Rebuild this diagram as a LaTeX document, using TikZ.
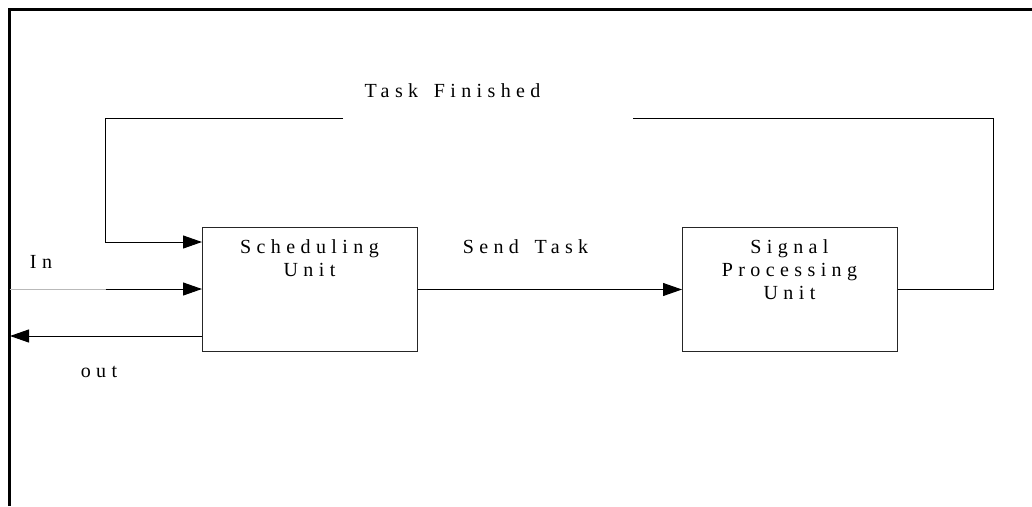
\documentclass[tikz,border=0pt]{standalone}
\usepackage{fontspec}
\setmainfont{Liberation Serif}
\newfontfamily\spacedserif[LetterSpace=27,WordSpace=1.5]{Liberation Serif}
\usetikzlibrary{arrows.meta}
\begin{document}
\begin{tikzpicture}[x=1pt,y=-1pt,
  unitbox/.style={draw=black!85, line width=1pt, minimum width=215pt,
    minimum height=124pt, inner sep=0pt, anchor=north west},
  boxtext/.style={font=\spacedserif\fontsize{20}{23}\selectfont,
    align=center, inner sep=0pt, anchor=north},
  lbl/.style={font=\spacedserif\fontsize{20}{23}\selectfont,
    inner sep=0pt, anchor=base},
  wire/.style={line width=1pt, black},
  tip/.style={-{Triangle[length=19pt,width=13pt]}}]
\useasboundingbox (0,0) rectangle (1032,506);

% outer frame: left and top edges only
\draw[line width=3pt] (9.5,506) -- (9.5,9.5) -- (1032,9.5);

% the two units
\node[unitbox] (sched) at (202,227) {};
\node[unitbox] (spu) at (682,227) {};
\node[boxtext] (schedtxt) at (309.5,239.5) {Scheduling\\Unit};
\node[boxtext] (sputxt) at (789.5,239.5) {Signal\\Processing\\Unit};

% labels
\node[lbl] (fin) at (452.5,97.3) {Task Finished};
\node[lbl] (send) at (525.5,253) {Send Task};
\node[lbl] (inlbl) at (41,268) {In};
\node[lbl] (outlbl) at (99,377) {out};

% feedback loop
\coordinate (fbturn) at (993,118);
\coordinate (gapR) at (632.5,118);
\coordinate (gapL) at (343,118);
\coordinate (fbleft) at (105.5,118);
\coordinate (fbdrop) at (105.5,242);
\draw[wire] (spu.east) -| (fbturn) -- (gapR);
\draw[wire,tip] (gapL) -- (fbleft) -- (fbdrop) -- (fbdrop -| sched.west);

% input
\coordinate (instart) at (9.5,289);
\coordinate (injoin) at (105.5,289);
\draw[gray!55, line width=0.8pt] (instart) -- (injoin);
\draw[wire,tip] (injoin) -- (injoin -| sched.west);

% task hand-off
\draw[wire,tip] (sched.east) -- (spu.west);

% output
\coordinate (outend) at (10,336);
\draw[wire,tip] (outend -| sched.west) -- (outend);
\end{tikzpicture}
\end{document}
